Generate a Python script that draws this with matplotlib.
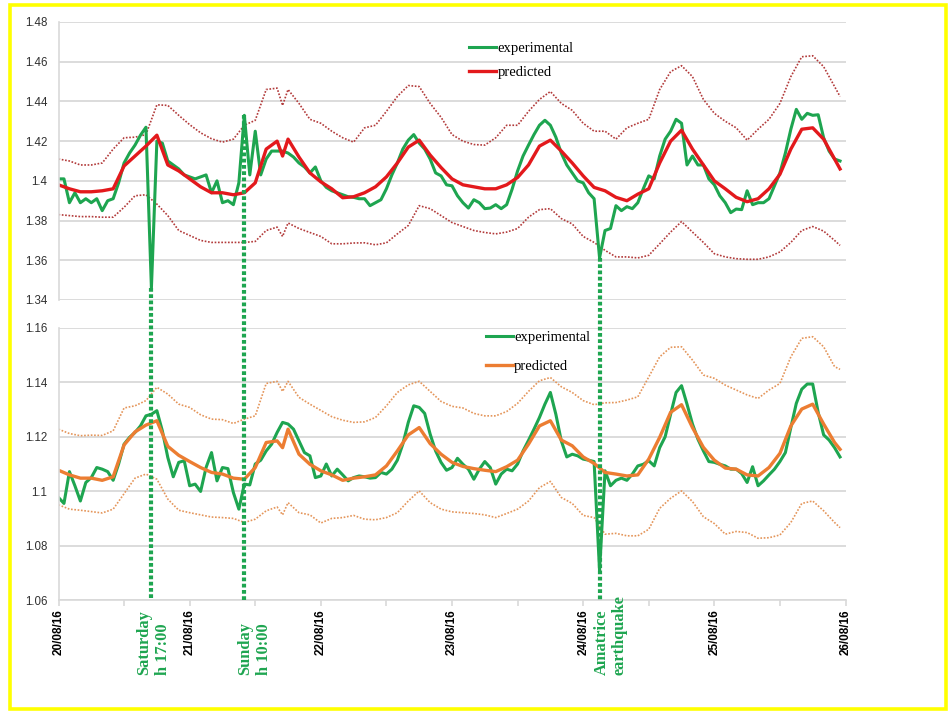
import matplotlib
matplotlib.use("Agg")
import matplotlib.pyplot as plt
from matplotlib.patches import Rectangle
from matplotlib.lines import Line2D
from matplotlib.ticker import MultipleLocator, FuncFormatter

# hours counted from 20/08/16 00:00
EXP_H = list(range(0, 144))
SMOOTH_H = list(range(0, 41, 2)) + [41] + list(range(42, 143, 2)) + [143]

# ---- top panel ----
top_exp = [
    1.401, 1.401, 1.389, 1.394, 1.389, 1.391, 1.389, 1.391, 1.385, 1.390,
    1.391, 1.399, 1.409, 1.414, 1.418, 1.423, 1.427, 1.346, 1.420, 1.419,
    1.410, 1.408, 1.406, 1.403, 1.402, 1.401, 1.402, 1.403, 1.394, 1.400,
    1.389, 1.390, 1.388, 1.399, 1.433, 1.403, 1.425, 1.403, 1.411, 1.415,
    1.415, 1.415, 1.414, 1.412, 1.409, 1.407, 1.404, 1.407, 1.400, 1.3967,
    1.395, 1.394, 1.393, 1.392, 1.3917, 1.391, 1.391, 1.3875, 1.389, 1.3905,
    1.396, 1.403, 1.409, 1.416, 1.4205, 1.4233, 1.419, 1.416, 1.411, 1.404,
    1.4025, 1.398, 1.3975, 1.3925, 1.389, 1.3863, 1.3905, 1.389, 1.386, 1.3863,
    1.388, 1.386, 1.388, 1.3958, 1.405, 1.4125, 1.418, 1.4233, 1.428, 1.4305,
    1.428, 1.422, 1.414, 1.408, 1.404, 1.400, 1.399, 1.394, 1.391, 1.3612,
    1.375, 1.376, 1.3875, 1.385, 1.387, 1.386, 1.389, 1.396, 1.4025, 1.401,
    1.4125, 1.421, 1.425, 1.431, 1.429, 1.408, 1.4125, 1.408, 1.408, 1.401,
    1.398, 1.3925, 1.389, 1.384, 1.3858, 1.3855, 1.395, 1.388, 1.389, 1.389,
    1.391, 1.3975, 1.404, 1.414, 1.426, 1.436, 1.431, 1.434, 1.433, 1.4333,
    1.4217, 1.415, 1.411, 1.410,
]
top_pred = [
    1.398, 1.396, 1.3945, 1.3945, 1.395, 1.396, 1.4075, 1.4125, 1.4175, 1.423,
    1.408, 1.405, 1.401, 1.397, 1.394, 1.394, 1.393, 1.394, 1.399, 1.416, 1.420,
    1.4125,
    1.421, 1.412, 1.404, 1.3995, 1.396, 1.3915, 1.392, 1.394, 1.397, 1.402,
    1.409, 1.417, 1.4205, 1.413, 1.4067, 1.401, 1.398, 1.397, 1.396, 1.396,
    1.398, 1.4017, 1.408, 1.4175, 1.4205, 1.415, 1.409, 1.4025, 1.3967, 1.395,
    1.3917, 1.390, 1.3933, 1.396, 1.409, 1.420, 1.4255, 1.416, 1.408, 1.400,
    1.396, 1.3917, 1.3895, 1.391, 1.396, 1.4033, 1.416, 1.426, 1.4267, 1.421,
    1.411,
    1.406,
]
top_upper = [
    1.411, 1.410, 1.408, 1.408, 1.409, 1.416, 1.4217, 1.422, 1.4233, 1.4383,
    1.438, 1.433, 1.4283, 1.4242, 1.4212, 1.4195, 1.421, 1.428, 1.4305, 1.446, 1.4467,
    1.438,
    1.446, 1.439, 1.431, 1.429, 1.425, 1.4217, 1.4195, 1.4267, 1.428, 1.435,
    1.4425, 1.448, 1.4475, 1.439, 1.432, 1.4233, 1.420, 1.4183, 1.418, 1.4217,
    1.428, 1.428, 1.435, 1.441, 1.445, 1.439, 1.4355, 1.429, 1.425, 1.425,
    1.421, 1.4267, 1.429, 1.431, 1.446, 1.455, 1.458, 1.4525, 1.441, 1.434,
    1.430, 1.4267, 1.4205, 1.426, 1.431, 1.439, 1.4525, 1.4625, 1.463, 1.4575,
    1.4475,
    1.4425,
]
top_lower = [
    1.383, 1.3825, 1.382, 1.382, 1.3817, 1.3817, 1.3867, 1.3925, 1.393, 1.3883,
    1.3825, 1.375, 1.3725, 1.370, 1.369, 1.369, 1.369, 1.369, 1.3695, 1.375, 1.3767,
    1.372,
    1.3788, 1.376, 1.374, 1.372, 1.3683, 1.3683, 1.3687, 1.3688, 1.3678, 1.3688,
    1.3733, 1.3775, 1.3875, 1.386, 1.3825, 1.379, 1.377, 1.375, 1.374, 1.3733,
    1.3742, 1.376, 1.3817, 1.3855, 1.386, 1.381, 1.3783, 1.372, 1.369, 1.365,
    1.3617, 1.3617, 1.3612, 1.3625, 1.3683, 1.3742, 1.3795, 1.3742, 1.369, 1.3633,
    1.3617, 1.3608, 1.3605, 1.3605, 1.3617, 1.3642, 1.369, 1.375, 1.377, 1.3747,
    1.370,
    1.3675,
]

# ---- bottom panel ----
bot_exp = [
    1.0977, 1.0955, 1.1072, 1.102, 1.0964, 1.1032, 1.105, 1.1087, 1.1081, 1.1072,
    1.104, 1.110, 1.1173, 1.1198, 1.1216, 1.124, 1.1277, 1.1283, 1.1296, 1.1222,
    1.1124, 1.1053, 1.1106, 1.1112, 1.102, 1.1026, 1.0999, 1.1087, 1.1142, 1.1038,
    1.1087, 1.1083, 1.0995, 1.0934, 1.1026, 1.1023, 1.110, 1.1114, 1.1148, 1.1173,
    1.1216, 1.1253, 1.1247, 1.1228, 1.1185, 1.1142, 1.113, 1.105, 1.1056, 1.110,
    1.1056, 1.1081, 1.106, 1.1038, 1.105, 1.1056, 1.1053, 1.1048, 1.105, 1.1069,
    1.1063, 1.1081, 1.1114, 1.1173, 1.1253, 1.1314, 1.1308, 1.1286, 1.121, 1.1148,
    1.1106, 1.1077, 1.1087, 1.1121, 1.1099, 1.1081, 1.1044, 1.1081, 1.1109, 1.1087,
    1.1026, 1.1063, 1.1081, 1.1075, 1.110, 1.1148, 1.1187, 1.1228, 1.1271, 1.132,
    1.1363, 1.1283, 1.1185, 1.1126, 1.1136, 1.113, 1.1118, 1.1114, 1.1109, 1.0707,
    1.1075, 1.102, 1.104, 1.1048, 1.104, 1.1063, 1.1093, 1.1099, 1.1112, 1.1093,
    1.116, 1.120, 1.1283, 1.1363, 1.1388, 1.132, 1.1247, 1.1191, 1.1148, 1.1109,
    1.1106, 1.1099, 1.1093, 1.1081, 1.1081, 1.1065, 1.1032, 1.109, 1.102, 1.1038,
    1.106, 1.1081, 1.1109, 1.1142, 1.1234, 1.1323, 1.1375, 1.1394, 1.1394, 1.129,
    1.1207, 1.1188, 1.116, 1.1126,
]
bot_pred = [
    1.1077, 1.106, 1.1048, 1.1048, 1.104, 1.1053, 1.117, 1.1218, 1.1243, 1.1259,
    1.1165, 1.1132, 1.1109, 1.1087, 1.1069, 1.1063, 1.1048, 1.1044, 1.1087, 1.1179, 1.1185,
    1.116,
    1.1228, 1.1136, 1.1099, 1.1075, 1.106, 1.104, 1.1048, 1.1053, 1.106, 1.1093,
    1.1148, 1.1207, 1.1234, 1.1175, 1.1136, 1.1106, 1.1091, 1.1083, 1.1077, 1.1072,
    1.109, 1.1114, 1.1173, 1.124, 1.1259, 1.1188, 1.1167, 1.1126, 1.1102, 1.1069,
    1.1063, 1.1056, 1.106, 1.1118, 1.1198, 1.129, 1.1318, 1.1234, 1.1161, 1.1114,
    1.1085, 1.1081, 1.106, 1.1056, 1.1087, 1.1139, 1.124, 1.1302, 1.132, 1.1247,
    1.1179,
    1.1154,
]
bot_upper = [
    1.1228, 1.1212, 1.1204, 1.1206, 1.1205, 1.1222, 1.1306, 1.1314, 1.1333, 1.1382,
    1.1357, 1.132, 1.1308, 1.1281, 1.1265, 1.1263, 1.1249, 1.1265, 1.1277, 1.1396, 1.1404,
    1.1367,
    1.1404, 1.1345, 1.132, 1.1297, 1.1274, 1.1261, 1.1253, 1.1255, 1.1271, 1.1314,
    1.1363, 1.1391, 1.1404, 1.1367, 1.133, 1.1312, 1.1306, 1.1286, 1.1277, 1.1277,
    1.1293, 1.1323, 1.1367, 1.1406, 1.1418, 1.1384, 1.1363, 1.1333, 1.1318, 1.1325,
    1.1326, 1.1335, 1.1347, 1.142, 1.1494, 1.1529, 1.1531, 1.1482, 1.1427, 1.1415,
    1.139, 1.1372, 1.1354, 1.1341, 1.1372, 1.1396, 1.1494, 1.1562, 1.1568, 1.1531,
    1.1458,
    1.1448,
]
bot_lower = [
    1.095, 1.0934, 1.093, 1.0925, 1.092, 1.0934, 1.0991, 1.1048, 1.1063, 1.1044,
    1.0971, 1.093, 1.0921, 1.0913, 1.0905, 1.0903, 1.090, 1.0885, 1.0897, 1.0928, 1.0942,
    1.0913,
    1.0958, 1.0921, 1.0913, 1.0883, 1.090, 1.0903, 1.0911, 1.0897, 1.0895, 1.0903,
    1.0921, 1.0964, 1.1001, 1.0958, 1.0934, 1.0924, 1.0921, 1.0918, 1.0913, 1.0903,
    1.0918, 1.0934, 1.0964, 1.1013, 1.1036, 1.0977, 1.0955, 1.0911, 1.0903, 1.0842,
    1.0845, 1.0836, 1.0836, 1.086, 1.0937, 1.0974, 1.1001, 1.0962, 1.0906, 1.0881,
    1.0842, 1.0852, 1.0848, 1.0827, 1.0829, 1.0839, 1.0885, 1.0955, 1.0964, 1.0928,
    1.0885,
    1.0866,
]

date_labels = ["20/08/16", "21/08/16", "22/08/16", "23/08/16",
               "24/08/16", "25/08/16", "26/08/16"]
event_hours = [17, 34, 99]
event_labels = ["Saturday\nh 17:00", "Sunday\nh 10:00", "Amatrice\nearthquake"]

GREEN = "#1ea550"
RED = "#e3191c"
DARKRED = "#b23a3a"
ORANGE = "#ec7d32"
LIGHTORANGE = "#e4955a"
GRID = "#d9d9d9"
SANS = "Liberation Sans"
SERIF = "Liberation Serif"


def fmt_excel(v, pos):
    return f"{v:.2f}".rstrip("0")


def style_axis(ax, lo, hi):
    ax.set_xlim(0, 144)
    ax.set_ylim(lo, hi)
    ax.yaxis.set_major_locator(MultipleLocator(0.02))
    ax.yaxis.set_major_formatter(FuncFormatter(fmt_excel))
    ax.grid(axis="y", color=GRID, lw=1.3)
    ax.set_axisbelow(True)
    for s in ["top", "right"]:
        ax.spines[s].set_visible(False)
    ax.spines["left"].set_color(GRID)
    ax.spines["left"].set_linewidth(1.2)
    ax.tick_params(axis="y", length=0, pad=8, labelsize=8.3, labelcolor="#303030")
    for lab in ax.get_yticklabels():
        lab.set_family(SANS)


fig = plt.figure(figsize=(9.48, 7.13), dpi=100)
fig.patch.set_facecolor("white")

ax1 = fig.add_axes([58.5 / 948, 1 - 300 / 713, 787 / 948, 278 / 713])
ax2 = fig.add_axes([58.5 / 948, 1 - 600 / 713, 787 / 948, 272 / 713])

# top panel
ax1.plot(SMOOTH_H, top_upper, color=DARKRED, lw=1.2, ls=(0, (1, 1)))
ax1.plot(SMOOTH_H, top_lower, color=DARKRED, lw=1.2, ls=(0, (1, 1)))
ax1.plot(EXP_H, top_exp, color=GREEN, lw=2.2, label="experimental")
ax1.plot(SMOOTH_H, top_pred, color=RED, lw=2.4, label="predicted")
style_axis(ax1, 1.34, 1.48)
ax1.spines["bottom"].set_visible(False)
ax1.tick_params(axis="x", bottom=False, labelbottom=False)

# bottom panel
ax2.plot(SMOOTH_H, bot_upper, color=LIGHTORANGE, lw=1.2, ls=(0, (1, 1)))
ax2.plot(SMOOTH_H, bot_lower, color=LIGHTORANGE, lw=1.2, ls=(0, (1, 1)))
ax2.plot(EXP_H, bot_exp, color=GREEN, lw=2.2, label="experimental")
ax2.plot(SMOOTH_H, bot_pred, color=ORANGE, lw=2.4, label="predicted")
style_axis(ax2, 1.06, 1.16)
ax2.spines["bottom"].set_color(GRID)
ax2.spines["bottom"].set_linewidth(1.2)
ax2.set_xticks(range(0, 145, 24))
ax2.set_xticks(range(12, 145, 24), minor=True)
ax2.set_xticklabels(date_labels, rotation=90, fontsize=8.5, fontweight="bold",
                    family=SANS, va="top")
ax2.tick_params(axis="x", which="both", length=4, color=GRID, width=1.2, pad=3)

for ax, anchor, spacing in [(ax1, (0.522, 0.93), 0.75), (ax2, (0.5426, 0.988), 1.05)]:
    ax.legend(loc="upper left", bbox_to_anchor=anchor, frameon=False,
              handlelength=1.85, handletextpad=0.1, borderpad=0,
              borderaxespad=0, labelspacing=spacing,
              prop={"family": SERIF, "size": 10.5})

# event markers spanning both panels (figure-level lines through both axes)
to_fig = fig.transFigure.inverted()
text_dx = [2, 10, 11]
for h, lab, dx in zip(event_hours, event_labels, text_dx):
    y_top = top_exp[EXP_H.index(h)]
    xa, ya = to_fig.transform(ax1.transData.transform((h, y_top)))
    xb, yb = to_fig.transform(ax2.transData.transform((h, 1.06)))
    fig.add_artist(Line2D([xb, xb], [ya, yb], color=GREEN, lw=3.0,
                          ls=(0, (0.9, 0.6)), zorder=5))
    ax2.annotate(lab, xy=(h, 38), xycoords=("data", "figure pixels"),
                 xytext=(dx, 0), textcoords="offset pixels",
                 rotation=90, ha="center", va="bottom", multialignment="left",
                 color=GREEN, fontsize=11.8, fontweight="bold", family=SERIF,
                 annotation_clip=False)

# yellow frame
fig.add_artist(Rectangle((10 / 948, 4 / 713), 936 / 948, 704 / 713,
                         transform=fig.transFigure, fill=False,
                         edgecolor="#ffff00", lw=2.6, zorder=10))

fig.savefig("out.png", dpi=100, facecolor="white")
